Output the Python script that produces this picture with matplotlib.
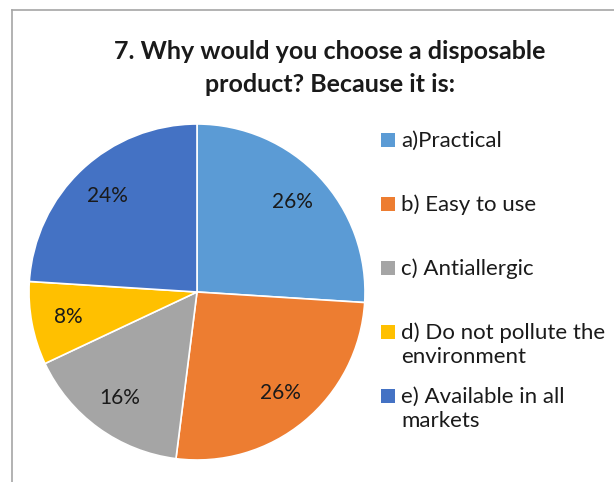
import matplotlib.pyplot as plt
from matplotlib.lines import Line2D
from matplotlib.patches import Rectangle

plt.rcParams['font.family'] = ['Lato', 'DejaVu Sans']

title = "7. Why would you choose a disposable\nproduct? Because it is:"
labels = ["a)Practical", "b) Easy to use", "c) Antiallergic",
          "d) Do not pollute the\nenvironment", "e) Available in all\nmarkets"]
shares = [26, 26, 16, 8, 24]
colors = ["#5B9BD5", "#ED7D31", "#A5A5A5", "#FFC000", "#4472C4"]

W, H = 614, 482
fig = plt.figure(figsize=(W / 100, H / 100), dpi=100)
ax = fig.add_axes([0, 0, 1, 1])

# pie in pixel units, y measured from the bottom
wedges, texts, autotexts = ax.pie(
    shares, colors=colors, startangle=90, counterclock=False,
    center=(197, H - 292), radius=168, autopct='%1.0f%%', pctdistance=0.78,
    wedgeprops=dict(edgecolor='white', linewidth=1.2),
    textprops=dict(fontsize=15, color='#1a1a1a'), frame=True)
ax.set_xlim(0, W)
ax.set_ylim(0, H)
ax.set_aspect('equal')
ax.axis('off')

# chart border (top and left edges only are in view)
fig.add_artist(Line2D([12 / W, 1], [1 - 10 / H, 1 - 10 / H], color='#a6a6a6', lw=1.2))
fig.add_artist(Line2D([12 / W, 12 / W], [0, 1 - 10 / H], color='#a6a6a6', lw=1.2))

fig.text(330 / W, 1 - 68 / H, title, ha='center', va='center', fontsize=18,
         fontweight='bold', linespacing=1.5, color='#1a1a1a')

# legend entries; baseline alignment goes by the last line
entry_y = [140, 204, 268, 332, 396]
line_h = 24
for lab, col, y in zip(labels, colors, entry_y):
    n = lab.count('\n')
    ax.add_patch(Rectangle((381, H - y - 7), 14, 14, facecolor=col, edgecolor='none'))
    ax.text(401, H - y - 7 - n * line_h, lab, ha='left', va='baseline', fontsize=16,
            color='#1a1a1a', linespacing=1.25)

fig.savefig('out.png', dpi=100)
